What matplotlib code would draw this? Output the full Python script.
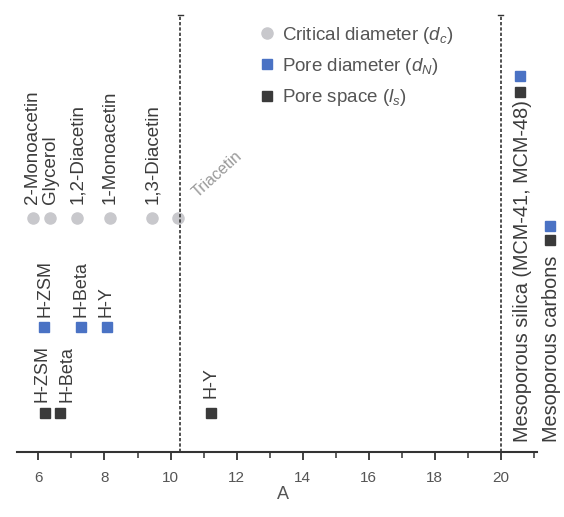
import matplotlib
matplotlib.use("Agg")
import matplotlib.pyplot as plt

plt.rcParams['font.family'] = ['Liberation Sans', 'DejaVu Sans']
plt.rcParams['mathtext.fontset'] = 'custom'
plt.rcParams['mathtext.it'] = 'Liberation Sans:italic'
plt.rcParams['mathtext.rm'] = 'Liberation Sans'

# critical diameters of the molecules (A)
molecules = ['2-Monoacetin', 'Glycerol', '1,2-Diacetin', '1-Monoacetin', '1,3-Diacetin', 'Triacetin']
crit_d = [5.82, 6.36, 7.18, 8.18, 9.45, 10.24]
crit_y = 234

# pore diameters of the zeolites (blue)
pore_names = ['H-ZSM', 'H-Beta', 'H-Y']
pore_d = [6.17, 7.29, 8.08]
pore_y = 125

# pore space of the zeolites (black)
space_names = ['H-ZSM', 'H-Beta', 'H-Y']
space_d = [6.2, 6.65, 11.23]
space_y = 39

# mesoporous materials
meso_names = ['Mesoporous silica (MCM-41, MCM-48)', 'Mesoporous carbons']
meso_x = [20.6, 21.5]
meso_blue_y = [376, 226]
meso_black_y = [360, 212]

gray = '#c8c8cc'
blue = '#4a72c4'
black = '#3a3a3a'
txt = '#3c3c3c'

fig = plt.figure(figsize=(5.64, 5.17), dpi=100)
ax = fig.add_axes([17/564, 65/517, 520/564, 452/517])
ax.set_xlim(5.35, 21.1)
ax.set_ylim(0, 452)

ax.plot(crit_d, [crit_y]*len(crit_d), 'o', color=gray, ms=8, mec=gray, label=r'Critical diameter ($d_c$)')
ax.plot(pore_d, [pore_y]*len(pore_d), 's', color=blue, ms=6.5, label=r'Pore diameter ($d_N$)')
ax.plot(space_d, [space_y]*len(space_d), 's', color=black, ms=6.5, label=r'Pore space ($l_s$)')
ax.plot(meso_x, meso_blue_y, 's', color=blue, ms=6.5, clip_on=False)
ax.plot(meso_x, meso_black_y, 's', color=black, ms=6.5, clip_on=False)

for name, x in zip(molecules[:-1], crit_d[:-1]):
    ax.text(x, crit_y + 14, name, rotation=90, ha='center', va='bottom', fontsize=13.5, color=txt)
ax.text(crit_d[-1] + 0.35, crit_y + 18, molecules[-1], rotation=42, ha='left', va='bottom',
        fontsize=11.5, color='#9a9a9a')

# zeolite labels
pore_lx = [6.2, 7.3, 8.06]
for name, x in zip(pore_names, pore_lx):
    ax.text(x, pore_y + 10, name, rotation=90, ha='center', va='bottom', fontsize=13, color=txt)
space_lx = [6.1, 6.86, 11.23]
space_ly = [50, 50, 54]
for name, x, y in zip(space_names, space_lx, space_ly):
    ax.text(x, y, name, rotation=90, ha='center', va='bottom', fontsize=13, color=txt)
for name, x in zip(meso_names, meso_x):
    ax.text(x + 0.05, 10, name, rotation=90, ha='center', va='bottom', fontsize=14.3, color=txt, clip_on=False)

for xv in [10.3, 20.0]:
    ax.plot([xv, xv], [0, 437], linestyle=(0, (2, 1.2)), color='#333333', lw=1.2)
    ax.plot([xv - 0.08, xv + 0.08], [437, 437], color='#333333', lw=1)

for s in ['top', 'left', 'right']:
    ax.spines[s].set_visible(False)
ax.spines['bottom'].set_color('#333333')
ax.spines['bottom'].set_linewidth(1.5)
ax.set_yticks([])
ax.set_xticks([6, 8, 10, 12, 14, 16, 18, 20])
ax.set_xticks([7, 9, 11, 13, 15, 17, 19, 21], minor=True)
ax.tick_params(axis='x', which='major', length=6, width=1.3, colors='#333333', labelsize=11, labelcolor='#555555', pad=8)
ax.tick_params(axis='x', which='minor', length=4, width=1.1, colors='#333333')
ax.set_xlabel('A', fontsize=13, color='#555555')
ax.xaxis.set_label_coords(266/520, -34/452)

ax.legend(loc='upper left', bbox_to_anchor=(250/564, 1 - 17/517), bbox_transform=fig.transFigure,
          frameon=False, fontsize=13.5, handletextpad=0.3, handlelength=1.0, labelspacing=0.55,
          labelcolor='#555555', borderaxespad=0)

fig.savefig('out.png', dpi=100)
